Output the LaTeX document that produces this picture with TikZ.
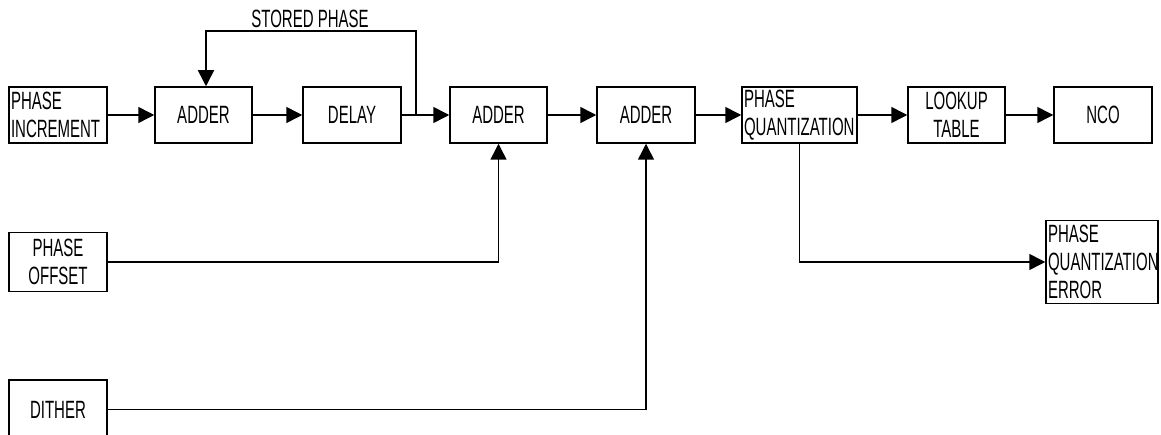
\documentclass[tikz,border=0pt]{standalone}
\usepackage{fontspec}
\setmainfont{Liberation Sans}[FakeStretch=0.6]
\usetikzlibrary{arrows.meta}
\begin{document}
\begin{tikzpicture}[x=1pt,y=-1pt,
  blk/.style={draw, line width=1.5pt, inner sep=0pt, minimum height=56pt,
    font=\fontsize{25}{28}\selectfont, align=center},
  lblk/.style={blk, align=left, inner xsep=2pt},
  wire/.style={line width=1.5pt},
  arr/.style={wire, -{Triangle[length=16pt,width=16pt]}},
  lbl/.style={font=\fontsize{25}{28}\selectfont, inner sep=0pt}]
\useasboundingbox (0,0) rectangle (1161,435);
% top row
\node[lblk, text width=94pt] (inc) at (58,115) {PHASE\\INCREMENT};
\node[blk, minimum width=97pt] (add1) at (203.5,115) {ADDER};
\node[blk, minimum width=98pt] (delay) at (352,115) {DELAY};
\node[blk, minimum width=97pt] (add2) at (498.5,115) {ADDER};
\node[blk, minimum width=98pt] (add3) at (646,115) {ADDER};
\node[lblk, text width=111pt] (pq) at (799.5,115) {PHASE\\QUANTIZATION};
\node[blk, minimum width=97pt] (lut) at (956.5,115) {LOOKUP\\TABLE};
\node[blk, minimum width=98pt] (nco) at (1103,115) {NCO};
% lower blocks
\node[blk, minimum width=98pt, minimum height=59pt] (off) at (58,262) {PHASE\\OFFSET};
\node[blk, minimum width=98pt, minimum height=59pt] (dither) at (58,409.5) {DITHER};
\node[lblk, text width=108pt, minimum height=83pt] (pqe) at (1102,262) {PHASE\\QUANTIZATION\\ERROR};
% label
\node[lbl] (stored) at (310,19) {STORED PHASE};
% connectors
\draw[arr] (inc) -- (add1);
\draw[arr] (add1) -- (delay);
\draw[arr] (delay) -- (add2);
\draw[arr] (add2) -- (add3);
\draw[arr] (add3) -- (pq);
\draw[arr] (pq) -- (lut);
\draw[arr] (lut) -- (nco);
\coordinate (tap) at (416,115);
\coordinate (fbtop) at (416,31);
\draw[arr] (tap) -- (fbtop) -| ([xshift=2.5pt]add1.north);
\draw[arr] (off) -| (add2);
\draw[arr] (dither) -| (add3);
\draw[arr] (pq) |- (pqe);
\end{tikzpicture}
\end{document}
